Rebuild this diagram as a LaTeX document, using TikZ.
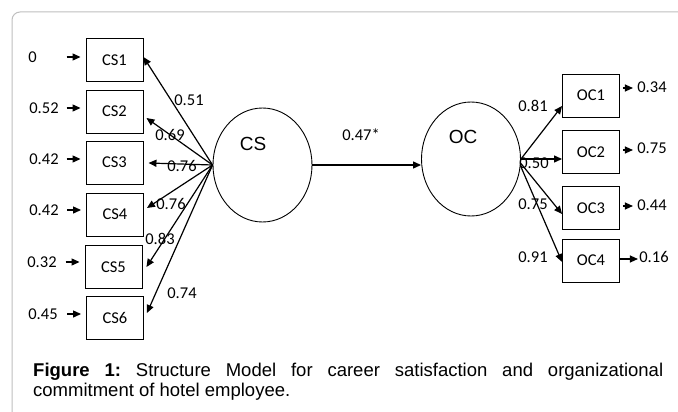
\documentclass[tikz,border=0pt]{standalone}
\usepackage{fontspec}
\setmainfont{Liberation Sans}
\newfontfamily\calfont{Carlito}
\usetikzlibrary{arrows.meta,shapes.geometric}
\begin{document}
\begin{tikzpicture}[x=1pt,y=-1pt,
 box/.style={draw, line width=0.9pt, minimum width=57pt, minimum height=43pt, inner sep=0pt, font=\calfont\fontsize{16.5}{18}\selectfont},
 lat/.style={draw, ellipse, line width=0.9pt, minimum width=99pt, minimum height=114pt, inner sep=0pt},
 latlab/.style={inner sep=0pt, font=\fontsize{19}{21}\selectfont},
 num/.style={inner sep=0pt, font=\calfont\fontsize{16.5}{18}\selectfont},
 arr/.style={line width=1.2pt, -{Triangle[length=8pt,width=7pt]}},
]
\useasboundingbox (0,0) rectangle (678,412);
\draw[black!25, line width=1pt, rounded corners=8pt] (12,412) -- (12,12) -- (678,12);

% indicator boxes
\node[box] (cs1) at (114.5,60) {CS1};
\node[box] (cs2) at (114.5,111.5) {CS2};
\node[box] (cs3) at (114.5,162.5) {CS3};
\node[box] (cs4) at (115,214.5) {CS4};
\node[box] (cs5) at (113.5,267) {CS5};
\node[box] (cs6) at (115,318) {CS6};
\node[box] (oc1) at (591,95.5) {OC1};
\node[box] (oc2) at (591,152) {OC2};
\node[box] (oc3) at (591,208) {OC3};
\node[box] (oc4) at (591,260.5) {OC4};

% latent variables
\node[lat] (cs) at (262.5,165) {};
\node[lat] (oc) at (471,159) {};
\node[latlab] (cslab) at (253,144) {CS};
\node[latlab] (oclab) at (463,137) {OC};

% error terms left
\node[num] (e1) at (32.5,57) {0};
\node[num] (e2) at (44,108) {0.52};
\node[num] (e3) at (44,159) {0.42};
\node[num] (e4) at (44,210) {0.42};
\node[num] (e5) at (42,262) {0.32};
\node[num] (e6) at (43,314) {0.45};
\foreach \i in {1,...,6}{
  \draw[arr] ([xshift=-19pt]cs\i.west |- e\i) -- ([xshift=-5pt]cs\i.west |- e\i);
}

% error terms right
\node[num] (f1) at (652,87) {0.34};
\node[num] (f2) at (652,148) {0.75};
\node[num] (f3) at (652,205) {0.44};
\node[num] (f4) at (654,257) {0.16};
\draw[arr] ([shift={(3,-7.5)}]oc1.east) -- ++(10,0);
\draw[arr] ([shift={(3,-2)}]oc2.east) -- ++(10,0);
\draw[arr] ([shift={(3,-2)}]oc3.east) -- ++(10,0);
\draw[arr] ([shift={(0,-1.5)}]oc4.east) -- ++(18,0);

% loadings CS
\draw[arr] (cs.west) -- ([shift={(0,-3)}]cs1.east);
\draw[arr] (cs.west) -- ([shift={(3,6.5)}]cs2.east);
\draw[arr] (cs.west) -- ([shift={(5,0.5)}]cs3.east);
\draw[arr] (cs.west) -- ([shift={(3,-6.5)}]cs4.east);
\draw[arr] (cs.west) -- ([shift={(4,0)}]cs5.east);
\draw[arr] (cs.west) -- ([shift={(3,-5)}]cs6.east);
\node[num] (l1) at (189,100) {0.51};
\node[num] (l2) at (170,135) {0.69};
\node[num] (l3) at (182,166) {0.76};
\node[num] (l4) at (171,204) {0.76};
\node[num] (l5) at (160,239) {0.83};
\node[num] (l6) at (182,293) {0.74};

% structural path
\draw[arr] (cs.east) -- (cs.east -| oc.west);
\node[num] (p) at (361,135) {0.47*};

% loadings OC
\draw[arr] (oc.east) -- ([shift={(0,10.5)}]oc1.west);
\draw[arr] (oc.east) -- ([shift={(0,7)}]oc2.west);
\draw[arr] (oc.-5) -- ([shift={(0,6)}]oc3.west);
\draw[arr] (oc.-8) -- ([shift={(0,1.5)}]oc4.west);
\node[num] (m1) at (533,106) {0.81};
\node[num] (m2) at (534,163) {0.50};
\node[num] (m3) at (533,204) {0.75};
\node[num] (m4) at (533,257) {0.91};

% caption
\node[anchor=north west, text width=630pt, align=justify, inner sep=0pt, font=\frenchspacing\fontsize{18.5}{19.5}\selectfont] (cap) at (33,363) {\textbf{Figure 1:} Structure Model for career satisfaction and organizational\linebreak commitment of hotel employee.};
\end{tikzpicture}
\end{document}
